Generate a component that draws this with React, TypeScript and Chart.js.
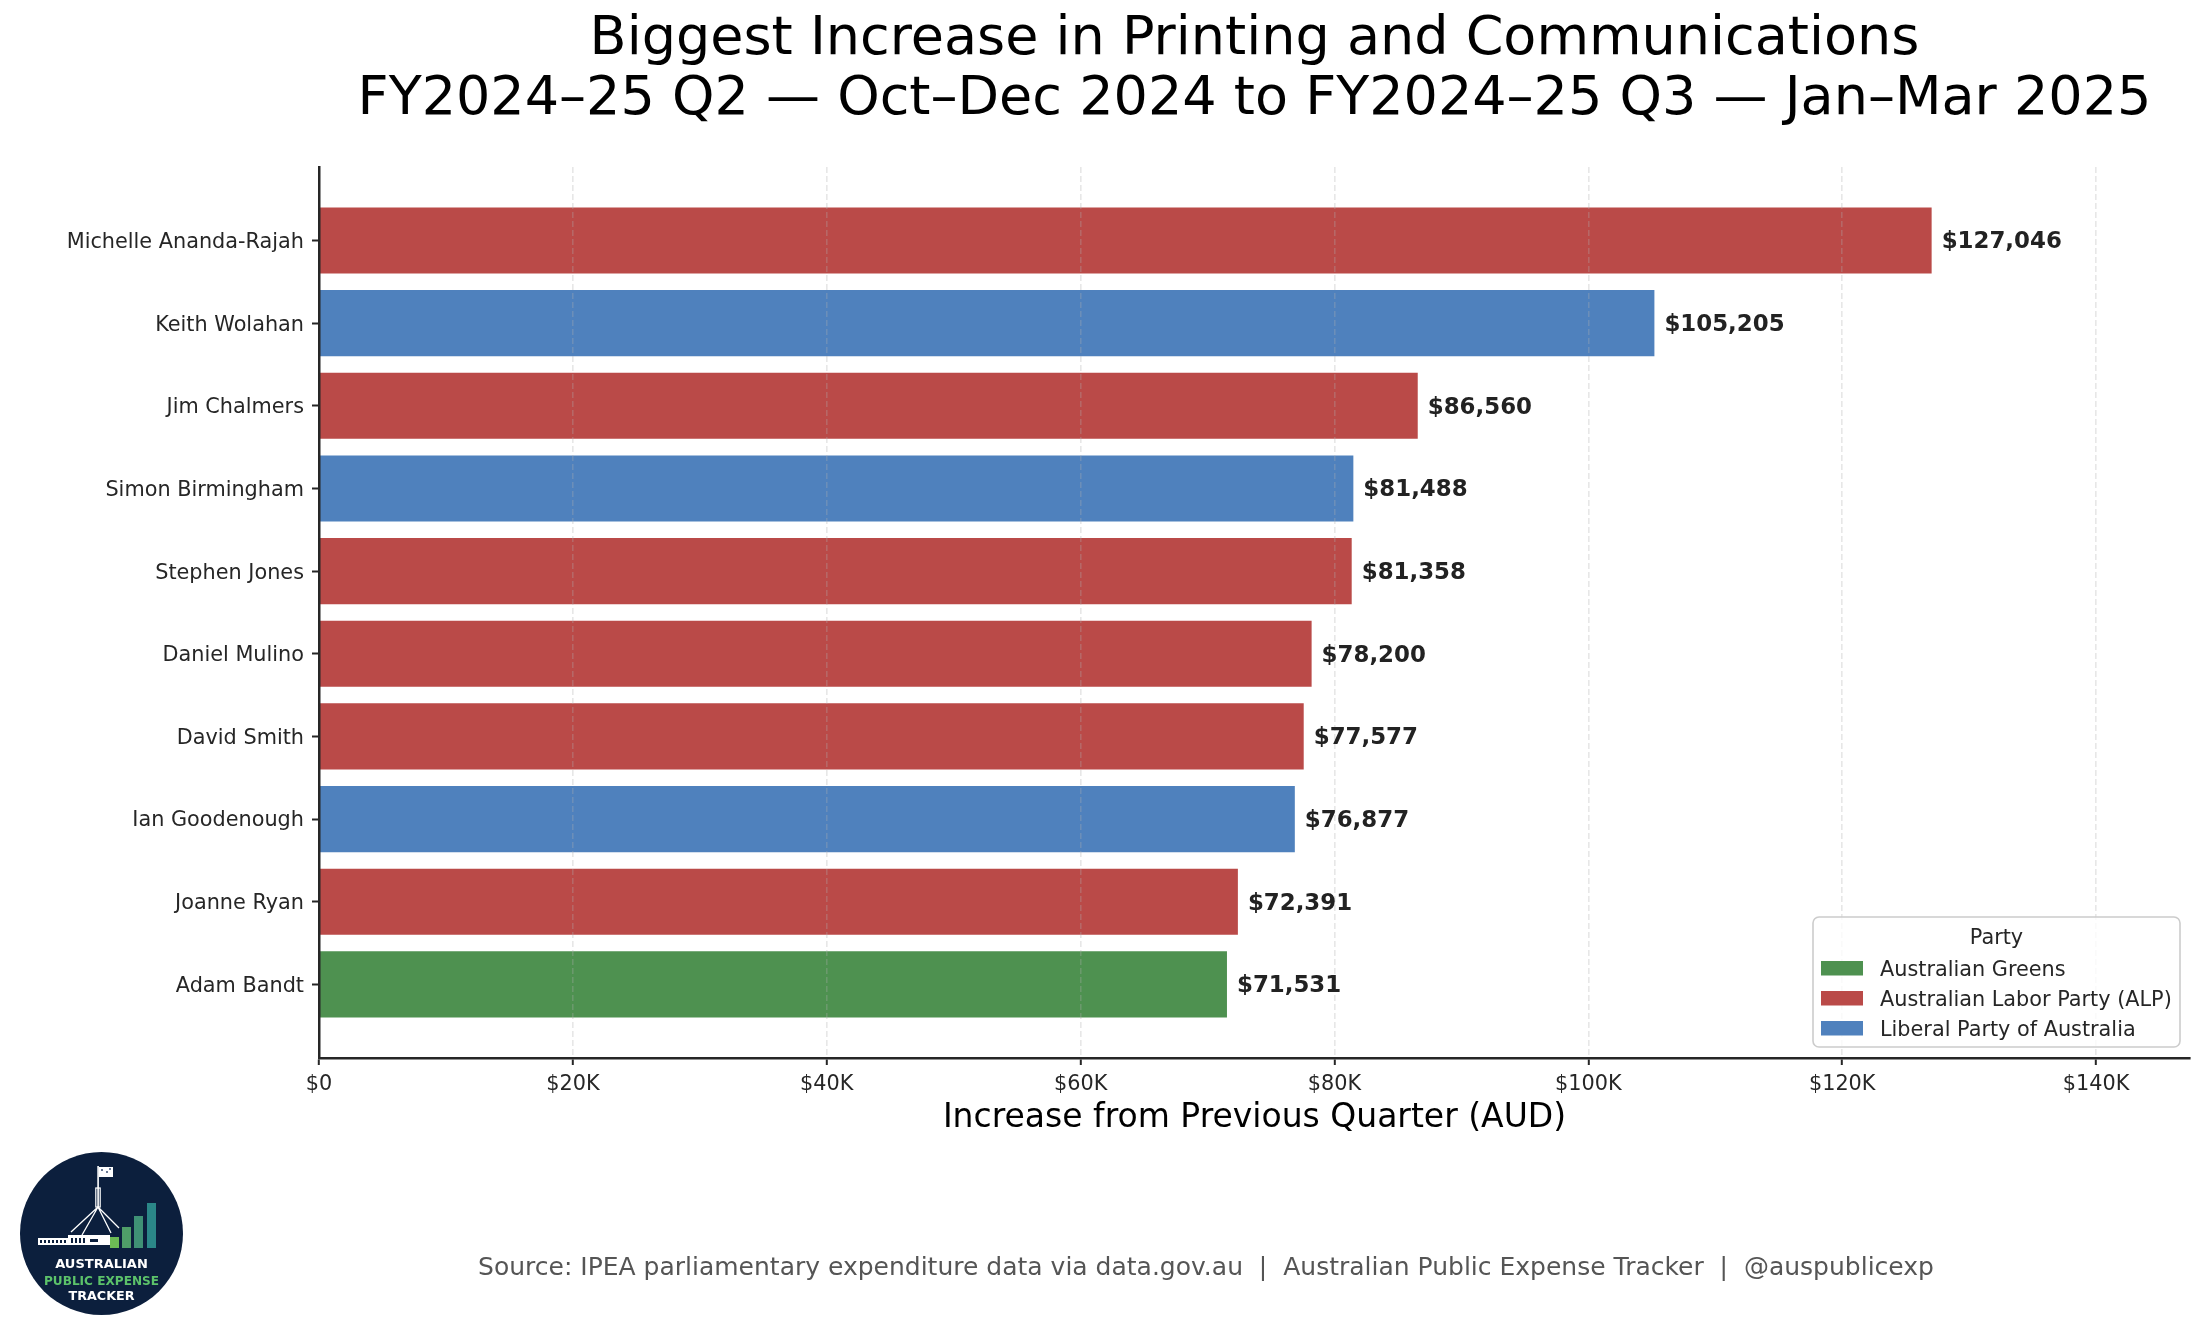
import React, { useEffect, useRef } from 'react';
import { Chart, registerables } from 'chart.js';

Chart.register(...registerables);

// ---------- data ----------
const names = [
  'Michelle Ananda-Rajah',
  'Keith Wolahan',
  'Jim Chalmers',
  'Simon Birmingham',
  'Stephen Jones',
  'Daniel Mulino',
  'David Smith',
  'Ian Goodenough',
  'Joanne Ryan',
  'Adam Bandt',
];
const values = [127046, 105205, 86560, 81488, 81358, 78200, 77577, 76877, 72391, 71531];
const parties = ['ALP', 'LIB', 'ALP', 'LIB', 'ALP', 'ALP', 'ALP', 'LIB', 'ALP', 'GRN'];

const partyKeys = ['GRN', 'ALP', 'LIB'];
const partyLabels = ['Australian Greens', 'Australian Labor Party (ALP)', 'Liberal Party of Australia'];
const partyColors = ['#4E9150', '#BA4A48', '#4F81BD'];

const xTickValues = [0, 20000, 40000, 60000, 80000, 100000, 120000, 140000];
const xMax = 147400;

const titleLines = [
  'Biggest Increase in Printing and Communications',
  'FY2024\u201325 Q2 \u2014 Oct\u2013Dec 2024 to FY2024\u201325 Q3 \u2014 Jan\u2013Mar 2025',
];
const xAxisTitle = 'Increase from Previous Quarter (AUD)';
const legendTitle = 'Party';
const sourceText =
  'Source: IPEA parliamentary expenditure data via data.gov.au  |  Australian Public Expense Tracker  |  @auspublicexp';
const logoLines = ['AUSTRALIAN', 'PUBLIC EXPENSE', 'TRACKER'];

const FONT = "'DejaVu Sans', sans-serif";
const DARK = '#262626';

function colorFor(p: string) {
  return partyColors[partyKeys.indexOf(p)];
}

function fmtMoney(v: number) {
  return '$' + v.toLocaleString('en-US');
}

function drawLogo(ctx: CanvasRenderingContext2D) {
  const cx = 101.5, cy = 1233.5, r = 81.5;
  ctx.save();
  ctx.fillStyle = '#0c1f3d';
  ctx.beginPath();
  ctx.arc(cx, cy, r, 0, Math.PI * 2);
  ctx.fill();

  // flag and pole
  ctx.fillStyle = '#ffffff';
  ctx.fillRect(97.3, 1166, 1.6, 42);
  ctx.fillRect(99, 1167, 14, 10);
  ctx.fillStyle = '#6a7a95';
  ctx.fillRect(101, 1169, 2, 2);
  ctx.fillRect(106, 1171, 2, 2);
  ctx.fillRect(109, 1168, 2, 2);
  // mast base
  ctx.strokeStyle = '#ffffff';
  ctx.lineWidth = 1.2;
  ctx.strokeRect(95.8, 1188, 4.4, 19);
  // legs
  ctx.lineWidth = 1.3;
  ctx.beginPath();
  const legs: [number, number][] = [[71, 1232], [82, 1235], [111, 1233], [119, 1228]];
  for (const [lx, ly] of legs) {
    ctx.moveTo(98, 1207);
    ctx.lineTo(lx, ly);
  }
  ctx.stroke();
  // building
  ctx.fillStyle = '#ffffff';
  ctx.fillRect(38, 1238, 30, 7);
  ctx.fillRect(68, 1235, 42, 10);
  ctx.fillStyle = '#0c1f3d';
  for (let i = 0; i < 7; i++) ctx.fillRect(40 + i * 4, 1240, 2, 3);
  for (let i = 0; i < 4; i++) ctx.fillRect(71 + i * 4, 1238, 2, 5);
  ctx.fillRect(90, 1239, 8, 3);
  // bars
  const bars: [number, number, string][] = [
    [110, 1237, '#6cbb55'],
    [122, 1227, '#4f9e68'],
    [134, 1216, '#3f9175'],
    [147, 1203, '#2b8788'],
  ];
  for (const [bx, by, c] of bars) {
    ctx.fillStyle = c;
    ctx.fillRect(bx, by, 9, 1248 - by);
  }
  // text
  ctx.textAlign = 'center';
  ctx.textBaseline = 'alphabetic';
  ctx.font = `bold 13px ${FONT}`;
  ctx.fillStyle = '#ffffff';
  ctx.fillText(logoLines[0], cx, 1268, 94);
  ctx.fillStyle = '#5cc26a';
  ctx.fillText(logoLines[1], cx, 1285, 115);
  ctx.fillStyle = '#ffffff';
  ctx.fillText(logoLines[2], cx, 1300, 66);
  ctx.restore();
}

function drawLegend(ctx: CanvasRenderingContext2D) {
  const bx = 1813, by = 917, bw = 367, bh = 130;
  ctx.save();
  ctx.beginPath();
  (ctx as any).roundRect(bx, by, bw, bh, 6);
  ctx.fillStyle = 'rgba(255,255,255,0.8)';
  ctx.fill();
  ctx.strokeStyle = '#cccccc';
  ctx.lineWidth = 1.6;
  ctx.stroke();

  ctx.fillStyle = DARK;
  ctx.textAlign = 'center';
  ctx.textBaseline = 'alphabetic';
  ctx.font = `20.8px ${FONT}`;
  ctx.fillText(legendTitle, bx + bw / 2, 944);

  ctx.textAlign = 'left';
  for (let i = 0; i < partyLabels.length; i++) {
    ctx.fillStyle = partyColors[i];
    ctx.fillRect(1821, 961 + 30 * i, 42, 14.5);
    ctx.fillStyle = DARK;
    ctx.fillText(partyLabels[i], 1880, 976 + 30 * i);
  }
  ctx.restore();
}

const decorPlugin = {
  id: 'decor',
  afterLayout(chart: any) {
    // centre the title over the plot area, as in the reference
    const tb = chart.titleBlock;
    if (tb) {
      tb.left = chart.chartArea.left;
      tb.right = chart.chartArea.right;
      tb.width = tb.right - tb.left;
    }
  },
  beforeDraw(chart: any) {
    const ctx = chart.ctx as CanvasRenderingContext2D;
    ctx.save();
    ctx.fillStyle = '#ffffff';
    ctx.fillRect(0, 0, chart.width, chart.height);
    ctx.restore();
  },
  afterDraw(chart: any) {
    const ctx = chart.ctx as CanvasRenderingContext2D;
    // value labels
    const meta = chart.getDatasetMeta(0);
    ctx.save();
    ctx.font = `bold 22.9px ${FONT}`;
    ctx.fillStyle = '#222222';
    ctx.textAlign = 'left';
    ctx.textBaseline = 'middle';
    meta.data.forEach((bar: any, i: number) => {
      ctx.fillText(fmtMoney(values[i]), bar.x + 10, bar.y + 2);
    });
    ctx.restore();

    drawLegend(ctx);

    // source line
    ctx.save();
    ctx.font = `25px ${FONT}`;
    ctx.fillStyle = '#555555';
    ctx.textAlign = 'center';
    ctx.textBaseline = 'alphabetic';
    ctx.fillText(sourceText, 1206, 1275);
    ctx.restore();

    drawLogo(ctx);
  },
};

export default function App() {
  const ref = useRef<HTMLCanvasElement>(null);

  useEffect(() => {
    if (!ref.current) return;
    const chart = new Chart(ref.current, {
      type: 'bar',
      data: {
        datasets: [
          {
            data: values.map((v, i) => ({ x: v, y: i })),
            backgroundColor: parties.map(colorFor),
            borderWidth: 0,
            barPercentage: 0.8,
            categoryPercentage: 1,
          },
        ],
      },
      options: {
        indexAxis: 'y',
        responsive: false,
        maintainAspectRatio: false,
        animation: false,
        devicePixelRatio: 1,
        events: [],
        layout: { padding: { left: 0, right: 15, top: 0, bottom: 0 } },
        plugins: {
          legend: { display: false },
          tooltip: { enabled: false },
          title: {
            display: true,
            text: titleLines,
            align: 'center',
            color: '#000000',
            font: { family: FONT, size: 54, weight: 'normal', lineHeight: 1.11 },
            padding: { top: 10, bottom: 37 },
          },
        },
        scales: {
          x: {
            type: 'linear',
            position: 'bottom',
            min: 0,
            max: xMax,
            offset: false,
            afterBuildTicks: (scale: any) => {
              scale.ticks = xTickValues.map((v) => ({ value: v }));
            },
            afterFit: (scale: any) => {
              scale.height = 279;
            },
            ticks: {
              color: DARK,
              font: { family: FONT, size: 20.8 },
              padding: 7,
              autoSkip: false,
              maxRotation: 0,
              callback: (v: any) => (Number(v) === 0 ? '$0' : '$' + Number(v) / 1000 + 'K'),
            },
            grid: {
              display: true,
              offset: false,
              drawOnChartArea: true,
              drawTicks: true,
              color: 'rgba(176,176,176,0.3)',
              lineWidth: 1.6,
              tickColor: DARK,
              tickWidth: 2,
              tickLength: 7,
              tickBorderDash: [],
              z: 1,
            } as any,
            border: { display: true, color: DARK, width: 2.5, dash: [6, 3], z: 1 } as any,
            title: {
              display: true,
              text: xAxisTitle,
              color: '#000000',
              font: { family: FONT, size: 33 },
              padding: { top: 0, bottom: 199 },
            },
          },
          y: {
            type: 'linear',
            position: 'left',
            reverse: true,
            offset: false,
            min: -0.89,
            max: 9.89,
            afterBuildTicks: (scale: any) => {
              scale.ticks = names.map((_, i) => ({ value: i }));
            },
            afterFit: (scale: any) => {
              scale.width = 319;
            },
            ticks: {
              color: DARK,
              font: { family: FONT, size: 20.8 },
              padding: 8,
              labelOffset: 2,
              autoSkip: false,
              callback: (v: any) => names[Number(v)] ?? '',
            },
            grid: {
              display: true,
              offset: false,
              drawOnChartArea: false,
              drawTicks: true,
              color: DARK,
              tickColor: DARK,
              tickWidth: 2,
              tickLength: 7,
              z: 1,
            } as any,
            border: { display: true, color: DARK, width: 2.5, z: 1 } as any,
          },
        },
      } as any,
      plugins: [decorPlugin],
    });
    return () => chart.destroy();
  }, []);

  return (
    <div
      style={{
        position: 'fixed',
        left: 0,
        top: 0,
        width: 2205,
        height: 1337,
        background: '#ffffff',
        overflow: 'hidden',
      }}
    >
      <canvas ref={ref} width={2205} height={1337} style={{ width: 2205, height: 1337, display: 'block' }} />
    </div>
  );
}
